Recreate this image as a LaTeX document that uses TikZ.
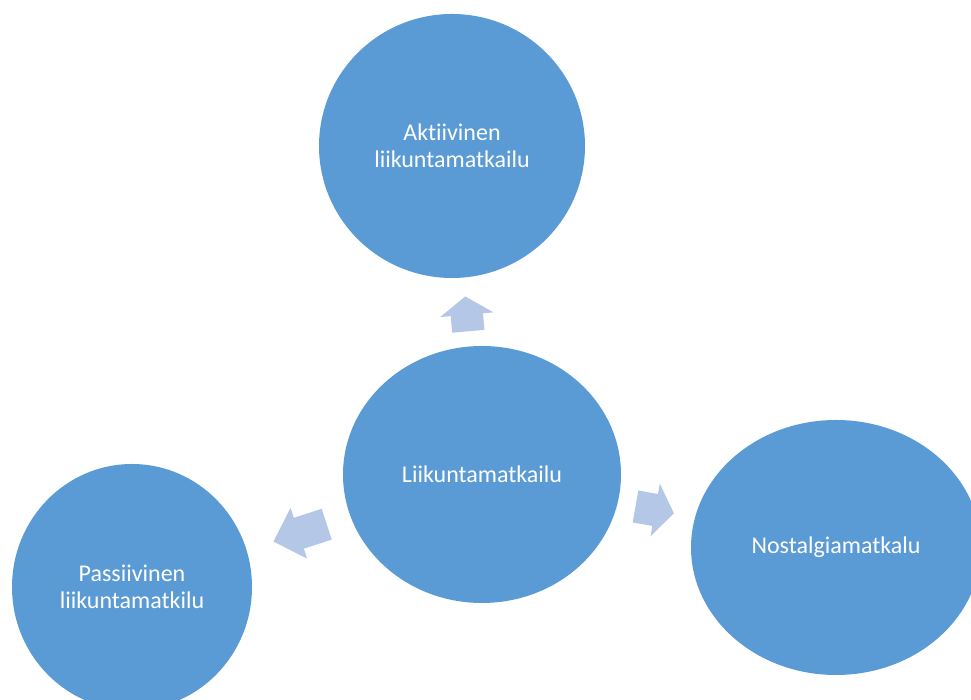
\documentclass[tikz,border=0pt]{standalone}
\usepackage{fontspec}
\setmainfont{Carlito}[Ligatures={NoCommon}]
\usepackage{tikz}
\usetikzlibrary{positioning, shapes.geometric, shapes.arrows}

\definecolor{bubbleblue}{HTML}{5B9BD5}
\definecolor{arrowblue}{HTML}{B4C7E7}

\begin{document}
\begin{tikzpicture}[x=1pt,y=1pt]

		\tikzset{
			bubble/.style={
					ellipse, fill=bubbleblue, draw=none, inner sep=0pt, outer sep=0pt, align=center,
					text=white, font=\fontsize{24}{27}\selectfont
				},
			pointer/.style={
					single arrow, fill=arrowblue, draw=none, inner sep=0pt, outer sep=0pt, anchor=tail,
					text height=16pt, text depth=16pt, single arrow head extend=10.5pt
				},
		}
		\useasboundingbox (0,0) rectangle (971,700);

		\node[bubble, minimum width=278pt, minimum height=257pt] (hub) at (482,225.5) {Liikuntamatkailu};
		\node[bubble, minimum width=266pt, minimum height=264pt, above=68pt of hub, xshift=-30pt] (aktiivi) {Aktiivinen\\liikuntamatkailu};
		\node[bubble, minimum width=240pt, minimum height=246pt, left=91pt of hub, yshift=-112.5pt] (passiivi) {Passiivinen\\liikuntamatkilu};
		\node[bubble, minimum width=290pt, minimum height=255pt, right=70pt of hub, yshift=-73pt] (nostalgia) {Nostalgiamatkalu};

		\node[pointer, minimum height=35pt, single arrow tip angle=111, rotate=95] (up) at (468.3,368.7) {};
		\node[pointer, minimum height=56pt, single arrow tip angle=90, rotate=198] (left) at (326.7,175.8) {};
		\node[pointer, minimum height=39pt, single arrow tip angle=109, rotate=-10] (right) at (635.5,193.5) {};

\end{tikzpicture}
\end{document}
